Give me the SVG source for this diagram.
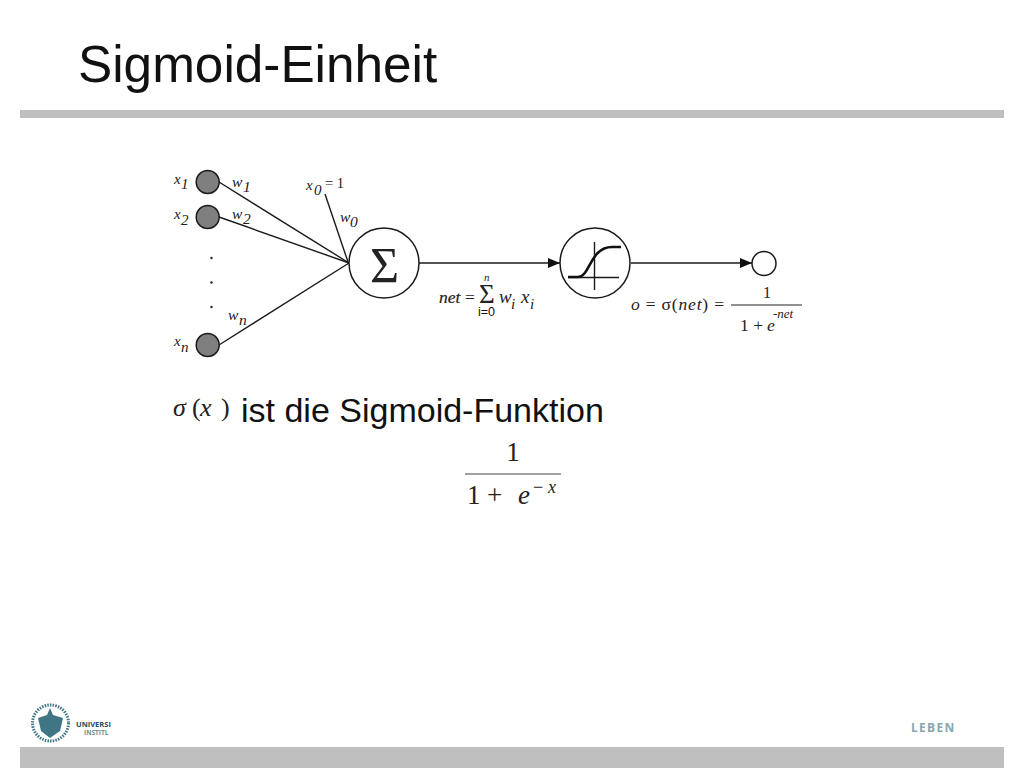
<svg xmlns="http://www.w3.org/2000/svg" width="1024" height="768" viewBox="0 0 1024 768">
<style>
.bar{fill:#bfbfbf}
.sans{font-family:"Liberation Sans",Arial,sans-serif;fill:#111}
.ser{font-family:"Liberation Serif","Times New Roman",serif;fill:#222}
.i{font-style:italic}
.ln{stroke:#1a1a1a;stroke-width:1.4;fill:none}
.in{fill:#7f7f7f;stroke:#1a1a1a;stroke-width:1.5}
.op{fill:#fff;stroke:#1a1a1a;stroke-width:1.5}
.logo{font-family:"Open Sans","Liberation Sans",sans-serif;font-weight:700}
</style>
<defs>
<marker id="arr" markerUnits="userSpaceOnUse" markerWidth="12" markerHeight="12" refX="12" refY="6" orient="auto"><path d="M0 1 L12 6 L0 11Z" fill="#111"/></marker>
</defs>
<rect width="1024" height="768" fill="#fff"/>
<rect class="bar" x="20" y="110" width="984" height="8"/>
<rect class="bar" x="20" y="747" width="984" height="21"/>
<text class="sans" x="78" y="82" font-size="51.300">Sigmoid-Einheit</text>

<g id="connectors">
<line class="ln" x1="219" y1="182" x2="349" y2="263"/>
<line class="ln" x1="219" y1="217" x2="349" y2="263"/>
<line class="ln" x1="219" y1="345" x2="349" y2="263"/>
<line class="ln" x1="325" y1="194" x2="348" y2="262"/>
<line class="ln" x1="419" y1="263" x2="560" y2="263" marker-end="url(#arr)"/>
<line class="ln" x1="631" y1="263" x2="752" y2="263" marker-end="url(#arr)"/>
</g>

<g id="node-x1"><circle class="in" cx="207.700" cy="182" r="11.500"/><text class="ser i" x="174" y="184" font-size="15">x</text><text class="ser i" x="181" y="189" font-size="15">1</text></g>
<g id="node-x2"><circle class="in" cx="207.700" cy="217" r="11.500"/><text class="ser i" x="174" y="219" font-size="15">x</text><text class="ser i" x="181" y="225" font-size="15">2</text></g>
<g id="node-xn"><circle class="in" cx="207.700" cy="345" r="11.500"/><text class="ser i" x="174" y="346" font-size="15">x</text><text class="ser i" x="181" y="352" font-size="15">n</text></g>
<g id="node-x0"><text class="ser i" x="306" y="190" font-size="15">x</text><text class="ser i" x="314" y="195" font-size="15">0</text><text class="ser" x="325" y="188" font-size="14.500">= 1</text></g>
<g id="dots"><circle cx="211.500" cy="258" r="1.200" fill="#222"/><circle cx="211.500" cy="282.500" r="1.200" fill="#222"/><circle cx="211.500" cy="307" r="1.200" fill="#222"/></g>
<g id="weights" class="ser i" font-size="15.500">
<text x="232" y="187">w</text><text x="243" y="192">1</text>
<text x="232" y="219">w</text><text x="243" y="224">2</text>
<text x="340" y="222">w</text><text x="350" y="227">0</text>
<text x="228" y="320">w</text><text x="239" y="325">n</text>
</g>

<g id="node-sum"><circle class="op" cx="384" cy="263" r="35"/><text class="ser" x="384.500" y="282" font-size="50" text-anchor="middle">Σ</text></g>
<g id="node-sigmoid"><circle class="op" cx="595" cy="263" r="35"/>
<line class="ln" x1="594.500" y1="242" x2="594.500" y2="290" stroke-width="1"/>
<line class="ln" x1="568" y1="277.500" x2="619" y2="277.500" stroke-width="1"/>
<path d="M568 277 H578 C590 277 590 247 612 247 H621" fill="none" stroke="#111" stroke-width="2.600"/></g>
<g id="node-output"><circle class="op" cx="764" cy="263.500" r="12"/></g>

<g id="net-label">
<text class="ser i" x="439" y="303" font-size="17.500" stroke="#222" stroke-width="0.200">net</text>
<text class="ser" x="465" y="303" font-size="17.500">=</text>
<text class="ser i" x="484" y="281" font-size="11">n</text>
<text class="ser" x="479" y="303" font-size="27">Σ</text>
<text class="sans" x="478" y="316" font-size="12.500">i=0</text>
<text class="ser i" x="499" y="303" font-size="19">w</text><text class="ser i" x="511" y="309" font-size="15">i</text>
<text class="ser i" x="521" y="303" font-size="19">x</text><text class="ser i" x="530" y="309" font-size="15">i</text>
</g>
<g id="o-label">
<text class="ser" x="631" y="310" font-size="17.500" textLength="93" lengthAdjust="spacing"><tspan class="i">o</tspan> = σ(<tspan class="i">net</tspan>) =</text>
<text class="ser" x="763" y="298" font-size="16">1</text>
<line x1="731" y1="305" x2="802" y2="305" stroke="#222" stroke-width="1"/>
<text class="ser" x="740" y="331" font-size="17.500">1 +</text>
<text class="ser i" x="767" y="331" font-size="17.500">e</text>
<text class="ser i" x="773" y="318" font-size="13">-net</text>
</g>

<g id="sigma-label"><text class="ser i" x="173" y="416" font-size="26">σ</text><text class="ser" x="192" y="416" font-size="26">(</text><text class="ser i" x="200" y="416" font-size="26">x</text><text class="ser" x="221" y="416" font-size="26">)</text></g>
<text class="sans" x="241" y="422" font-size="34">ist die Sigmoid-Funktion</text>
<g id="formula">
<text class="ser" x="513" y="461" font-size="27" text-anchor="middle">1</text>
<line x1="465" y1="474" x2="561" y2="474" stroke="#444" stroke-width="1"/>
<text class="ser" x="467" y="504" font-size="27">1</text>
<text class="ser" x="487" y="504" font-size="27">+</text>
<text class="ser i" x="518" y="504" font-size="27">e</text>
<text class="ser" x="533" y="493" font-size="18">−</text>
<text class="ser i" x="548" y="493" font-size="18">x</text>
</g>

<g id="logo">
<circle cx="50.500" cy="723" r="18" fill="none" stroke="#3f7585" stroke-width="3" stroke-dasharray="1.500 1.200"/>
<path d="M50 708 L53 715 L63 718 L60 731 L50 738 L41 731 L38 718 L47 715Z" fill="#3f7585"/>
<text class="logo" x="76" y="727" font-size="7.500" fill="#1f4e5c">UNIVERSI</text>
<text class="logo" x="84" y="735" font-size="6.500" fill="#6d8f99">INSTITL</text>
<text class="logo" x="911" y="732" font-size="12" letter-spacing="1.300" fill="#8aa5ad">LEBEN</text>
</g>
</svg>
